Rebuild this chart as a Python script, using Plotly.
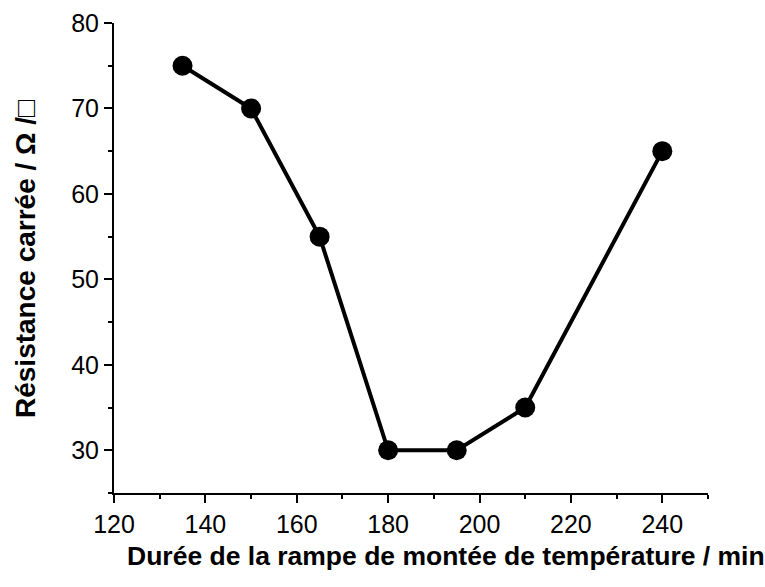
import plotly.graph_objects as go

durations = [135, 150, 165, 180, 195, 210, 240]
resistance = [75, 70, 55, 30, 30, 35, 65]
x_ticks = [120, 140, 160, 180, 200, 220, 240]
y_ticks = [30, 40, 50, 60, 70, 80]
x_title = "<b>Durée de la rampe de montée de température / min</b>"
y_title = "<b>Résistance carrée / Ω /</b>□"

fig = go.Figure()
fig.add_trace(go.Scatter(
    x=durations, y=resistance, mode="lines+markers",
    line=dict(color="black", width=4),
    marker=dict(color="black", size=20),
    showlegend=False, hoverinfo="skip",
))

font = "Liberation Sans, Arial, sans-serif"
axis_common = dict(
    showgrid=False, zeroline=False, showline=True, linecolor="black", linewidth=2,
    ticks="outside", ticklen=8, tickwidth=2, tickcolor="black",
    tickfont=dict(family=font, size=25, color="black"),
    mirror=False,
)
fig.update_xaxes(
    range=[120, 250], tickvals=x_ticks, **axis_common,
    minor=dict(dtick=10, tick0=120, ticks="outside", ticklen=4, tickwidth=2, tickcolor="black"),
)
fig.update_yaxes(
    range=[25, 80], tickvals=y_ticks, **axis_common,
    minor=dict(dtick=5, tick0=25, ticks="outside", ticklen=4, tickwidth=2, tickcolor="black"),
)

L, R, T, B = 114, 57, 23, 94
W, H = 765, 587
pw, ph = W - L - R, H - T - B
fig.add_annotation(
    text=x_title, xref="paper", yref="paper",
    x=(446 - L) / pw, y=(H - B - 556) / ph, xanchor="center", yanchor="middle",
    showarrow=False, font=dict(family=font, size=26.5, color="black"),
)
fig.add_annotation(
    text=y_title, xref="paper", yref="paper", textangle=-90,
    x=(25 - L) / pw, y=(H - B - 259) / ph, xanchor="center", yanchor="middle",
    showarrow=False, font=dict(family=font, size=28, color="black"),
)
fig.update_layout(
    width=W, height=H,
    margin=dict(l=L, r=R, t=T, b=B, autoexpand=False),
    plot_bgcolor="white", paper_bgcolor="white",
)
fig.write_html("out.html", config={"displayModeBar": False},
               post_script="document.body.style.margin='0';document.body.style.padding='0';")
